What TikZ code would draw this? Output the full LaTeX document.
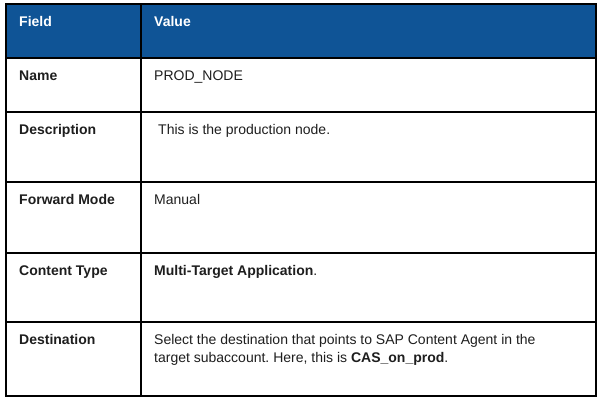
\documentclass[tikz,border=0pt]{standalone}
\usepackage{fontspec}
\setmainfont{Liberation Sans}
\definecolor{hdrblue}{HTML}{0F5496}
\definecolor{txtgray}{HTML}{1E1E1E}
\frenchspacing

\begin{document}
\begin{tikzpicture}[x=1pt,y=-1pt,
  every node/.style={inner sep=0pt, anchor=base west},
  hdr/.style={fill=hdrblue,draw=black,line width=1.2pt},
  cell/.style={fill=white,draw=black,line width=1.2pt},
  hdrtxt/.style={text=white,font=\fontsize{14}{18}\selectfont\bfseries},
  celltxt/.style={text=txtgray,font=\fontsize{14}{18}\selectfont,align=left},
  keytxt/.style={celltxt,font=\fontsize{14}{18}\selectfont\bfseries}
]
%general params
\def\xa{6}    %left edge
\def\xb{141}  %column split
\def\xc{596}  %right edge
\def\kx{19}   %key text x
\def\vx{154}  %value text x
\def\bs{22.5} %baseline below row top

\useasboundingbox (0,0) rectangle (601,402);

% header
\draw[hdr] (\xa,4) rectangle (\xc,58);
\draw[line width=1.2pt] (\xb,4) -- (\xb,58);
\node[hdrtxt] (FH) at (\kx,4+\bs) {Field};
\node[hdrtxt] (VH) at (\vx,4+\bs) {Value};

% rows
\draw[cell] (\xa,58) rectangle (\xc,112);
\draw[line width=1.2pt] (\xb,58) -- (\xb,112);
\node[keytxt]  (F1) at (\kx,58+\bs) {Name};
\node[celltxt] (V1) at (\vx,58+\bs) {PROD\_NODE};

\draw[cell] (\xa,112) rectangle (\xc,182);
\draw[line width=1.2pt] (\xb,112) -- (\xb,182);
\node[keytxt]  (F2) at (\kx,112+\bs) {Description};
\node[celltxt] (V2) at (\vx+4,112+\bs) {This is the production node.};

\draw[cell] (\xa,182) rectangle (\xc,253);
\draw[line width=1.2pt] (\xb,182) -- (\xb,253);
\node[keytxt]  (F3) at (\kx,182+\bs) {Forward Mode};
\node[celltxt] (V3) at (\vx,182+\bs) {Manual};

\draw[cell] (\xa,253) rectangle (\xc,322);
\draw[line width=1.2pt] (\xb,253) -- (\xb,322);
\node[keytxt]  (F4) at (\kx,253+\bs) {Content Type};
\node[celltxt] (V4) at (\vx,253+\bs) {\textbf{Multi-Target Application}.};

\draw[cell] (\xa,322) rectangle (\xc,396);
\draw[line width=1.2pt] (\xb,322) -- (\xb,396);
\node[keytxt]  (F5) at (\kx,322+\bs) {Destination};
% base of a two line node is its last line
\node[celltxt] (V5) at (\vx,322+\bs+18) {Select the destination that points to SAP Content Agent in the\\
  target subaccount. Here, this is \textbf{CAS\_on\_prod}.};

\end{tikzpicture}
\end{document}
